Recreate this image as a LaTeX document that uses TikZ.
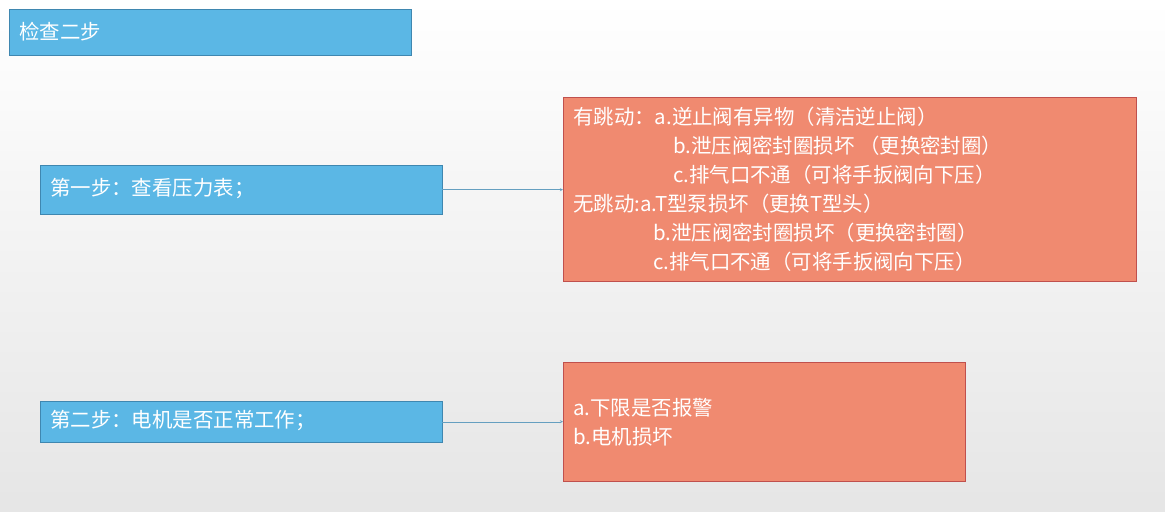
\documentclass[tikz,border=0pt]{standalone}
\usepackage{fontspec}
\setmainfont{Noto Sans CJK SC}
\usetikzlibrary{positioning}
\definecolor{stepblue}{HTML}{5BB7E5}
\definecolor{stepline}{HTML}{3F87B0}
\definecolor{notered}{HTML}{F08A70}
\definecolor{noteline}{HTML}{C0504D}
\tikzset{
  stepbox/.style={draw=stepline,fill=stepblue,text=white,anchor=north west,inner sep=0pt},
  notebox/.style={draw=noteline,fill=notered,anchor=north west,inner sep=0pt},
  line/.style={anchor=west,text=white,inner sep=0pt,font=\fontsize{20.5}{24}\selectfont},
  link/.style={draw=stepline!80,->,>=stealth,thin}
}
\begin{document}
\begin{tikzpicture}[x=1bp,y=-1bp]
  % Hintergrund
  \shade[top color=white,bottom color=black!10] (0,0) rectangle (1165,512);
  \useasboundingbox (0,0) rectangle (1165,512);
  % Titel
  \node[stepbox,minimum width=402bp,minimum height=46bp] (titel) at (9,9) {};
  \node[line] at (19,32) {检查二步};
  % Schritte
  \node[stepbox,minimum width=402bp,minimum height=49bp] (schritt-eins) at (40,165) {};
  \node[line] at (50,189) {第一步：查看压力表；};
  \node[stepbox,minimum width=402bp,minimum height=41bp] (schritt-zwei) at (40,401) {};
  \node[line] at (50,421) {第二步：电机是否正常工作；};
  % Ursachen
  \node[notebox,minimum width=573bp,minimum height=184bp] (ursache-eins) at (563,97) {};
  \node[line] at (573,117) {有跳动：a.逆止阀有异物（清洁逆止阀）};
  \node[line] at (673,146) {b.泄压阀密封圈损坏 （更换密封圈）};
  \node[line] at (673,175) {c.排气口不通（可将手扳阀向下压）};
  \node[line] at (573,204) {无跳动:a.T型泵损坏（更换T型头）};
  \node[line] at (653,233) {b.泄压阀密封圈损坏（更换密封圈）};
  \node[line] at (653,262) {c.排气口不通（可将手扳阀向下压）};
  \node[notebox,minimum width=402bp,minimum height=119bp] (ursache-zwei) at (563,362) {};
  \node[line] at (573,408) {a.下限是否报警};
  \node[line] at (573,437) {b.电机损坏};
  % Pfeile
  \draw[link] (schritt-eins.east) -- (schritt-eins.east -| ursache-eins.west);
  \draw[link] (schritt-zwei.east) -- (schritt-zwei.east -| ursache-zwei.west);
\end{tikzpicture}
\end{document}
